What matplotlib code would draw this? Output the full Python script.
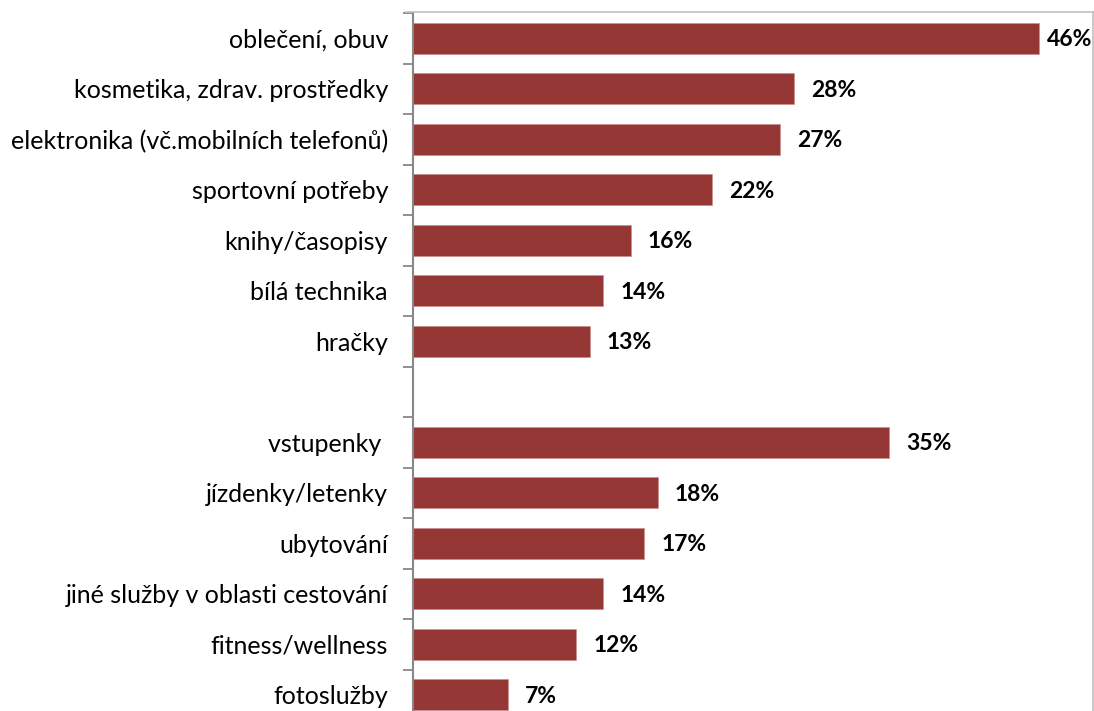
import matplotlib.pyplot as plt
import numpy as np

plt.rcParams['font.family'] = ['Lato', 'DejaVu Sans']

# top to bottom; None = empty gap row between goods and services
categories = [
    "oblečení, obuv",
    "kosmetika, zdrav. prostředky",
    "elektronika (vč.mobilních telefonů)",
    "sportovní potřeby",
    "knihy/časopisy",
    "bílá technika",
    "hračky",
    "",
    "vstupenky ",
    "jízdenky/letenky",
    "ubytování",
    "jiné služby v oblasti cestování",
    "fitness/wellness",
    "fotoslužby",
]
values = [46, 28, 27, 22, 16, 14, 13, None, 35, 18, 17, 14, 12, 7]

BAR_COLOR = "#953735"
AXIS_GREY = "#878787"

W, H = 1094, 711
fig = plt.figure(figsize=(W / 100, H / 100), dpi=100)
ax_left = 413 / W
ax_right = 1093 / W
ax_top = 1 - 13 / H
ax_bot = 1 - 720 / H
ax = fig.add_axes([ax_left, ax_bot, ax_right - ax_left, ax_top - ax_bot])

n = len(categories)
ypos = np.arange(n)
for y, v in zip(ypos, values):
    if v is None:
        continue
    ax.barh(y, v, height=0.62, color=BAR_COLOR, edgecolor="#c98a88", linewidth=0.4)
    # Excel pushes the last label inwards so it stays inside the frame
    lx = min(v + 1.25, 46.6)
    ax.text(lx, y + 0.03, f"{v}%", ha="left", va="center", fontsize=16.5,
            fontweight="bold", color="black")

ax.set_xlim(0, 50)
ax.set_ylim(n - 0.5, -0.5)
ax.set_xticks([])

ax.set_yticks(ypos)
ax.set_yticklabels(categories, fontsize=18)
ax.tick_params(axis="y", which="major", length=0, pad=18)
ax.set_yticks(np.arange(n + 1) - 0.5, minor=True)
ax.tick_params(axis="y", which="minor", length=7, width=1.3, color=AXIS_GREY)

for side in ["top", "right", "bottom"]:
    ax.spines[side].set_visible(False)
ax.spines["left"].set_color(AXIS_GREY)
ax.spines["left"].set_linewidth(1.5)

# chart frame (top and right edges visible in the crop)
fig.add_artist(plt.Line2D([406 / W, 1093 / W], [1 - 12 / H, 1 - 12 / H],
                          color="#c0c0c0", linewidth=1.2))
fig.add_artist(plt.Line2D([1093 / W, 1093 / W], [1 - 12 / H, 0],
                          color="#c0c0c0", linewidth=1.2))

fig.savefig("out.png", dpi=100)
